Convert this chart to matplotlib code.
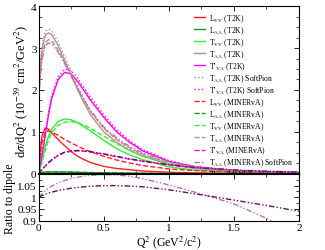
import numpy as np
import matplotlib
matplotlib.use("Agg")
import matplotlib.pyplot as plt
from matplotlib.ticker import MultipleLocator

plt.rcParams['font.family'] = ['Liberation Serif', 'DejaVu Serif']
plt.rcParams['mathtext.fontset'] = 'stix'

# Q^2 grid (GeV^2/c^2)
q2 = [0, 0.01, 0.025, 0.05, 0.075, 0.1, 0.15, 0.2, 0.25, 0.3, 0.35, 0.4,
      0.5, 0.6, 0.7, 0.8, 1.0, 1.2, 1.5, 1.75, 2.0]

# dsigma/dQ2 (1e-39 cm^2/GeV^2)
lvv_t2k = [0, 0.5, 0.9, 1.1, 1.07, 0.98, 0.82, 0.67, 0.53, 0.42, 0.34, 0.27,
           0.18, 0.13, 0.1, 0.07, 0.04, 0.025, 0.015, 0.01, 0.005]
laa_t2k = [0, 0.02, 0.035, 0.045, 0.05, 0.05, 0.048, 0.045, 0.042, 0.038, 0.035, 0.03,
           0.025, 0.02, 0.016, 0.012, 0.008, 0.005, 0.003, 0.002, 0.001]
tvv_t2k = [0, 0.13, 0.33, 0.65, 0.9, 1.07, 1.25, 1.31, 1.29, 1.22, 1.12, 1.02,
           0.8, 0.6, 0.45, 0.34, 0.17, 0.09, 0.04, 0.025, 0.015]
taa_t2k = [1.8, 2.4, 2.95, 3.3, 3.36, 3.32, 3.05, 2.7, 2.35, 2.0, 1.68, 1.4,
           1.0, 0.75, 0.56, 0.42, 0.23, 0.13, 0.06, 0.035, 0.02]
tva_t2k = [0, 0.18, 0.45, 0.9, 1.4, 1.8, 2.25, 2.42, 2.38, 2.2, 1.98, 1.75,
           1.35, 1.0, 0.75, 0.55, 0.3, 0.17, 0.08, 0.045, 0.03]
taa_t2k_sp = [1.85, 2.5, 3.05, 3.4, 3.45, 3.41, 3.14, 2.79, 2.44, 2.09, 1.77, 1.49,
              1.08, 0.81, 0.6, 0.45, 0.25, 0.14, 0.065, 0.04, 0.02]
tva_t2k_sp = [0, 0.19, 0.47, 0.93, 1.45, 1.86, 2.32, 2.5, 2.46, 2.28, 2.05, 1.82,
              1.41, 1.05, 0.79, 0.58, 0.32, 0.18, 0.085, 0.05, 0.03]
lvv_min = [0, 0.4, 0.75, 0.98, 1.03, 1.0, 0.92, 0.82, 0.74, 0.66, 0.59, 0.53,
           0.42, 0.33, 0.26, 0.2, 0.12, 0.08, 0.05, 0.03, 0.02]
laa_min = [0, 0.018, 0.032, 0.042, 0.047, 0.048, 0.047, 0.045, 0.043, 0.04, 0.037, 0.034,
           0.029, 0.024, 0.02, 0.016, 0.011, 0.008, 0.005, 0.003, 0.002]
tvv_min = [0, 0.1, 0.28, 0.55, 0.8, 0.98, 1.16, 1.23, 1.25, 1.22, 1.16, 1.08,
           0.9, 0.72, 0.56, 0.43, 0.24, 0.14, 0.07, 0.04, 0.025]
taa_min = [1.75, 2.3, 2.8, 3.12, 3.2, 3.17, 2.95, 2.65, 2.35, 2.03, 1.74, 1.48,
           1.09, 0.82, 0.62, 0.47, 0.27, 0.16, 0.08, 0.05, 0.03]
tva_min = [0, 0.04, 0.1, 0.18, 0.26, 0.33, 0.44, 0.51, 0.54, 0.55, 0.54, 0.52,
           0.47, 0.41, 0.35, 0.3, 0.21, 0.15, 0.09, 0.06, 0.04]
taa_min_sp = [1.7, 2.25, 2.72, 3.05, 3.12, 3.1, 2.9, 2.62, 2.33, 2.03, 1.76, 1.51,
              1.12, 0.86, 0.65, 0.5, 0.29, 0.17, 0.09, 0.05, 0.03]
tva_min_sp = [0, 0.045, 0.11, 0.19, 0.27, 0.34, 0.45, 0.52, 0.55, 0.56, 0.55, 0.53,
              0.48, 0.42, 0.36, 0.31, 0.22, 0.155, 0.095, 0.065, 0.045]

# ratio to dipole (lower panel)
ratio_taa = [1.0, 1.006, 1.014, 1.027, 1.038, 1.048, 1.062, 1.072, 1.08, 1.086, 1.091, 1.094,
             1.097, 1.096, 1.09, 1.08, 1.053, 1.022, 0.972, 0.91, 0.84]
ratio_tva = [1.0, 1.003, 1.007, 1.013, 1.018, 1.022, 1.029, 1.034, 1.039, 1.042, 1.045, 1.047,
             1.05, 1.05, 1.048, 1.045, 1.032, 1.015, 0.988, 0.965, 0.94]

red, dgreen, lgreen = '#ff2020', '#159a15', '#30ee30'
brown, mag = '#bc8f8f', '#ff00ff'
plum, dpurple = '#c070b0', '#6a106a'
dd = (0, (4, 1.5, 1, 1.5, 1, 1.5))

fig = plt.figure(figsize=(3.25, 2.51), dpi=100)
ax = fig.add_axes([0.119, 0.303, 0.801, 0.669])
ax2 = fig.add_axes([0.119, 0.117, 0.801, 0.186])

lw = 1.0
series = [
    (lvv_t2k, red, '-', r'L$_{\rm VV}$ (T2K)'),
    (laa_t2k, dgreen, '-', r'L$_{\rm AA}$ (T2K)'),
    (tvv_t2k, lgreen, '-', r'T$_{\rm VV}$ (T2K)'),
    (taa_t2k, brown, '-', r'T$_{\rm AA}$ (T2K)'),
    (tva_t2k, mag, '-', r"T'$_{\rm VA}$ (T2K)"),
    (taa_t2k_sp, brown, ':', r'T$_{\rm AA}$ (T2K) SoftPion'),
    (tva_t2k_sp, mag, ':', r"T'$_{\rm VA}$ (T2K) SoftPion"),
    (lvv_min, red, '--', r'L$_{\rm VV}$ (MINERvA)'),
    (laa_min, dgreen, '--', r'L$_{\rm AA}$ (MINERvA)'),
    (tvv_min, lgreen, '--', r'T$_{\rm VV}$ (MINERvA)'),
    (taa_min, brown, '--', r'T$_{\rm AA}$ (MINERvA)'),
    (tva_min, mag, '--', r"T'$_{\rm VA}$ (MINERvA)"),
    (taa_min_sp, plum, dd, r'T$_{\rm AA}$ (MINERvA) SoftPion'),
    (tva_min_sp, dpurple, dd, r"T'$_{\rm VA}$ (MINERvA) SoftPion"),
]
for y, c, ls, lab in series:
    ax.plot(q2, y, color=c, ls=ls, lw=lw, label=lab)

ax2.plot(q2, ratio_taa, color=plum, ls=dd, lw=lw)
ax2.plot(q2, ratio_tva, color=dpurple, ls=dd, lw=lw)

ax.set_xlim(0, 2)
ax.set_ylim(0, 4)
ax2.set_xlim(0, 2)
ax2.set_ylim(0.9, 1.1)

for a in (ax, ax2):
    a.xaxis.set_major_locator(MultipleLocator(0.5))
    a.xaxis.set_minor_locator(MultipleLocator(0.25))
    a.tick_params(which='both', direction='in', top=True, right=True, labelsize=8, pad=1.5)
    a.tick_params(which='major', length=3.5, width=0.6)
    a.tick_params(which='minor', length=2, width=0.5)
    for s in a.spines.values():
        s.set_linewidth(0.8)
ax.spines['bottom'].set_linewidth(1.6)
ax.yaxis.set_major_locator(MultipleLocator(1))
ax.yaxis.set_minor_locator(MultipleLocator(0.25))
ax.tick_params(labelbottom=False)
ax2.set_yticks([0.9, 0.95, 1.0, 1.05, 1.1])
ax2.set_yticklabels(['0.9', '0.95', '1', '1.05', ''])
ax2.yaxis.set_minor_locator(MultipleLocator(0.025))
ax2.set_xticks([0, 0.5, 1, 1.5, 2])
ax2.set_xticklabels(['0', '0.5', '1', '1.5', '2'])

ax.set_ylabel(r'd$\sigma$/dQ$^2$ (10$^{-39}$ cm$^2$/GeV$^2$)', fontsize=9, labelpad=1)
ax2.set_ylabel('Ratio to dipole', fontsize=8.5, labelpad=1)
ax2.set_xlabel(r'Q$^2$ (GeV$^2$/c$^2$)', fontsize=8.5, labelpad=1)

ax.legend(loc='upper right', bbox_to_anchor=(1.0, 0.99), frameon=False, fontsize=5.5,
          handlelength=1.4, handletextpad=0.5, labelspacing=0.05, borderaxespad=0.2)

fig.savefig('out.png', dpi=100)
